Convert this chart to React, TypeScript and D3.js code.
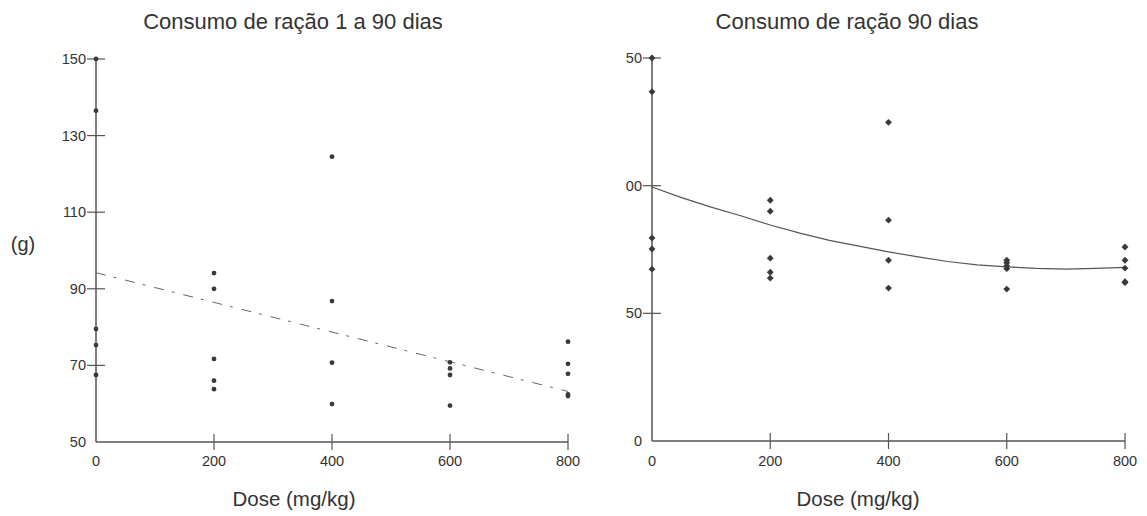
import * as d3 from 'd3';

const W = 1147;
const H = 516;

const doses = [0, 200, 400, 600, 800];

// left panel: consumo 1 a 90 dias (g)
const leftDose = [0, 0, 0, 0, 0, 200, 200, 200, 200, 200, 400, 400, 400, 400, 600, 600, 600, 600, 800, 800, 800, 800, 800];
const leftVal = [150, 136.5, 79.5, 75.3, 67.5, 94.1, 90, 71.7, 66, 63.8, 124.5, 86.8, 70.7, 59.9, 70.8, 69.2, 67.5, 59.5, 76.2, 70.4, 67.8, 62.4, 62];
const leftFit = [94.2, 63.2]; // at dose 0 and 800
const leftTicks = [50, 70, 90, 110, 130, 150];

// right panel: consumo 90 dias
const rightDose = [0, 0, 0, 0, 0, 200, 200, 200, 200, 200, 400, 400, 400, 400, 600, 600, 600, 600, 600, 800, 800, 800, 800, 800];
const rightVal = [150, 136.8, 79.5, 75.2, 67.3, 94.3, 90, 71.6, 66.1, 63.8, 124.8, 86.5, 70.8, 59.9, 70.8, 69.8, 68.6, 67.5, 59.5, 76, 70.8, 67.7, 62.4, 62];
const curveDose = [0, 50, 100, 150, 200, 250, 300, 350, 400, 450, 500, 550, 600, 650, 700, 750, 800];
const curveVal = [99.5, 95.3, 91.6, 88.2, 84.6, 81.4, 78.6, 76.3, 74.1, 72.1, 70.3, 69, 68.2, 67.6, 67.3, 67.6, 68];
const rightTicks = [0, 50, 100, 150];

const FONT = 'Arial, "Liberation Sans", sans-serif';
const AXIS = '#555';
const TEXT = '#333';
const DOT = '#3a3a3a';

export default function App() {
  const lx = d3.scaleLinear().domain([0, 800]).range([96, 568]);
  const ly = d3.scaleLinear().domain([50, 150]).range([442, 59]);
  const rx = d3.scaleLinear().domain([0, 800]).range([652, 1125]);
  const ry = d3.scaleLinear().domain([0, 150]).range([441, 58]);

  const fitLine = d3.line<number>().x((d, i) => lx(i === 0 ? 0 : 800)).y((d) => ly(d));
  const curve = d3.line<number>().x((d, i) => rx(curveDose[i])).y((d) => ry(d));
  const diamond = d3.symbol().type(d3.symbolDiamond2).size(30)();

  return (
    <svg width={W} height={H} style={{ position: 'absolute', left: 0, top: 0, background: '#fff' }} fontFamily={FONT}>
      <defs>
        <clipPath id="rclip">
          <rect x={626} y={0} width={W - 626} height={H} />
        </clipPath>
      </defs>

      {/* left panel */}
      <text x={293} y={29} textAnchor="middle" fontSize={22} fill={TEXT}>Consumo de ração 1 a 90 dias</text>
      <text x={23} y={251} textAnchor="middle" fontSize={20} fill={TEXT}>(g)</text>
      <text x={294} y={506} textAnchor="middle" fontSize={20.5} fill={TEXT}>Dose (mg/kg)</text>

      <line x1={lx(0)} x2={lx(0)} y1={ly(150)} y2={ly(50)} stroke={AXIS} strokeWidth={1.5} />
      <line x1={lx(0)} x2={lx(800)} y1={ly(50)} y2={ly(50)} stroke={AXIS} strokeWidth={1.5} />
      {leftTicks.map((t) => (
        <g key={'ly' + t}>
          {t !== 50 && <line x1={lx(0) - 9} x2={lx(0) + 9} y1={ly(t)} y2={ly(t)} stroke={AXIS} strokeWidth={1.2} />}
          <text x={86} y={ly(t) + 5} textAnchor="end" fontSize={14.5} fill={TEXT}>{t}</text>
        </g>
      ))}
      {doses.map((d) => (
        <g key={'lx' + d}>
          {d !== 0 && <line x1={lx(d)} x2={lx(d)} y1={ly(50) - 8} y2={ly(50) + 8} stroke={AXIS} strokeWidth={1.2} />}
          <text x={lx(d)} y={466} textAnchor="middle" fontSize={14.5} fill={TEXT}>{d}</text>
        </g>
      ))}
      <path d={fitLine(leftFit) || ''} fill="none" stroke="#666" strokeWidth={1} strokeDasharray="10,8,3,9" />
      {leftVal.map((v, i) => (
        <circle key={'lp' + i} cx={lx(leftDose[i])} cy={ly(v)} r={2.4} fill={DOT} />
      ))}

      {/* right panel */}
      <text x={847} y={29} textAnchor="middle" fontSize={22} fill={TEXT}>Consumo de ração 90 dias</text>
      <text x={858} y={506} textAnchor="middle" fontSize={20.5} fill={TEXT}>Dose (mg/kg)</text>

      <g clipPath="url(#rclip)">
        <line x1={rx(0)} x2={rx(0)} y1={ry(150)} y2={ry(0)} stroke={AXIS} strokeWidth={1.5} />
        <line x1={rx(0)} x2={rx(800)} y1={ry(0)} y2={ry(0)} stroke={AXIS} strokeWidth={1.5} />
        {rightTicks.map((t) => (
          <g key={'ry' + t}>
            {t !== 0 && <line x1={rx(0) - 9} x2={rx(0) + 9} y1={ry(t)} y2={ry(t)} stroke={AXIS} strokeWidth={1.2} />}
            <text x={642} y={ry(t) + 5} textAnchor="end" fontSize={14.5} fill={TEXT}>{t}</text>
          </g>
        ))}
        {doses.map((d) => (
          <g key={'rx' + d}>
            {d !== 0 && <line x1={rx(d)} x2={rx(d)} y1={ry(0) - 8} y2={ry(0) + 8} stroke={AXIS} strokeWidth={1.2} />}
            <text x={rx(d)} y={466} textAnchor="middle" fontSize={14.5} fill={TEXT}>{d}</text>
          </g>
        ))}
        <path d={curve(curveVal) || ''} fill="none" stroke="#555" strokeWidth={1.2} />
        {rightVal.map((v, i) => (
          <path key={'rp' + i} d={diamond || ''} transform={`translate(${rx(rightDose[i])},${ry(v)})`} fill={DOT} />
        ))}
      </g>
    </svg>
  );
}
